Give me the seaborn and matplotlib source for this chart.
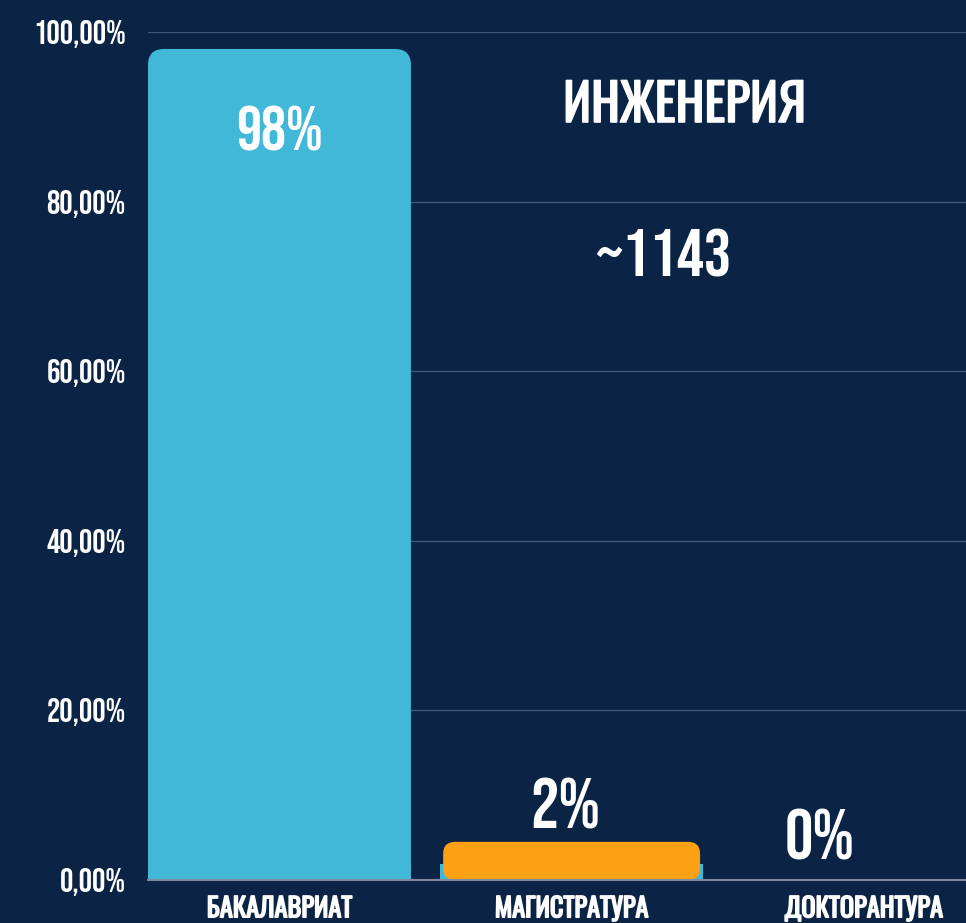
import matplotlib
matplotlib.use("Agg")
import matplotlib.pyplot as plt
import matplotlib.patheffects as pe
import seaborn as sns
import pandas as pd
from matplotlib.patches import FancyBboxPatch
from matplotlib.ticker import FuncFormatter

categories = ["БАКАЛАВРИАТ", "МАГИСТРАТУРА", "ДОКТОРАНТУРА"]
shares = [98, 2, 0]
value_labels = ["98%", "2%", "0%"]
title = "ИНЖЕНЕРИЯ"
total_label = "~1143"
yticks = [0, 20, 40, 60, 80, 100]

BG = "#0B2344"
BLUE = "#41B8D8"
ORANGE = "#FDA014"
FAM = ["Bebas Neue", "Oswald", "DejaVu Sans"]
CYR = ["Oswald", "DejaVu Sans"]
FONT = dict(family=FAM, color="white")
BOLDEN = [pe.withStroke(linewidth=1.1, foreground="white")]

sns.set_theme(style="dark")
plt.rcParams["font.family"] = FAM

W, H = 966, 923
fig = plt.figure(figsize=(W / 100, H / 100), dpi=100, facecolor=BG)
ax = fig.add_axes([148 / W, 43 / H, 1 - 148 / W, (880 - 32) / H])
ax.set_facecolor("none")

df = pd.DataFrame({"cat": categories, "share": shares})
sns.barplot(data=df, x="cat", y="share", color=BLUE, width=0.9, saturation=1, ax=ax, zorder=2)

ax.set_xlim(-0.45, 2.35)
ax.set_ylim(0, 100)
ax.set_yticks(yticks)
ax.yaxis.set_major_formatter(FuncFormatter(lambda v, p: f"{v:.2f}".replace(".", ",") + "%"))
ax.grid(axis="y", color="#3E5878", linewidth=1.0, zorder=0)
ax.grid(axis="x", visible=False)
for s in ["top", "right", "left"]:
    ax.spines[s].set_visible(False)
ax.spines["bottom"].set_color("#7C8C9E")
ax.spines["bottom"].set_linewidth(1.5)
ax.spines["bottom"].set_zorder(5)
ax.tick_params(axis="y", length=0, pad=16)
ax.tick_params(axis="x", length=0, pad=11)
for t in ax.get_yticklabels():
    t.set_fontsize(24)
    t.set_family(FAM)
    t.set_color("white")
for t in ax.get_xticklabels():
    t.set_fontsize(19)
    t.set_family(CYR)
    t.set_fontweight("bold")
    t.set_color("white")
    t.set_path_effects(BOLDEN)
ax.set_xlabel("")
ax.set_ylabel("")

# pixel scale of data units, for round corners with equal radius on both axes
px_x = ax.bbox.width / (ax.get_xlim()[1] - ax.get_xlim()[0])
px_y = ax.bbox.height / (ax.get_ylim()[1] - ax.get_ylim()[0])
aspect = px_x / px_y
r_px = 16

patches = list(ax.patches)
for p in patches:
    x, w, h = p.get_x(), p.get_width(), p.get_height()
    p.set_visible(False)
    if h <= 0:
        continue
    r = min(r_px / px_x, h * px_y / px_x)
    ax.add_patch(FancyBboxPatch((x, 0), w, h, boxstyle=f"round,pad=0,rounding_size={r}",
                                mutation_aspect=aspect, facecolor=BLUE, edgecolor="none", zorder=2))
    ax.add_patch(plt.Rectangle((x, 0), w, min(h, r * aspect), facecolor=BLUE,
                               edgecolor="none", zorder=2))

# orange highlight on the master's bar
mp = patches[1]
inset = 3 / px_x
ax.add_patch(FancyBboxPatch((mp.get_x() + inset, 0), mp.get_width() - 2 * inset, mp.get_height() * 2.25,
                            boxstyle=f"round,pad=0,rounding_size={12 / px_x}", mutation_aspect=aspect,
                            facecolor=ORANGE, edgecolor="none", zorder=3))

ax.text(0, shares[0] - 9.3, value_labels[0], ha="center", va="center_baseline", fontsize=45, **FONT)
ax.text(1 - 0.02, shares[1] + 7.0, value_labels[1], ha="center", va="center_baseline", fontsize=51, **FONT)
ax.text(2 - 0.15, shares[2] + 5.4, value_labels[2], ha="center", va="center_baseline", fontsize=51, **FONT)

ax.text(0.656, 0.918, title, transform=ax.transAxes, ha="center", va="center_baseline",
        fontsize=37, family=CYR, fontweight="bold", color="white", path_effects=BOLDEN)
ax.text(0.630, 0.740, total_label, transform=ax.transAxes, ha="center", va="center_baseline",
        fontsize=49, **FONT)

fig.savefig("out.png", dpi=100, facecolor=BG)
